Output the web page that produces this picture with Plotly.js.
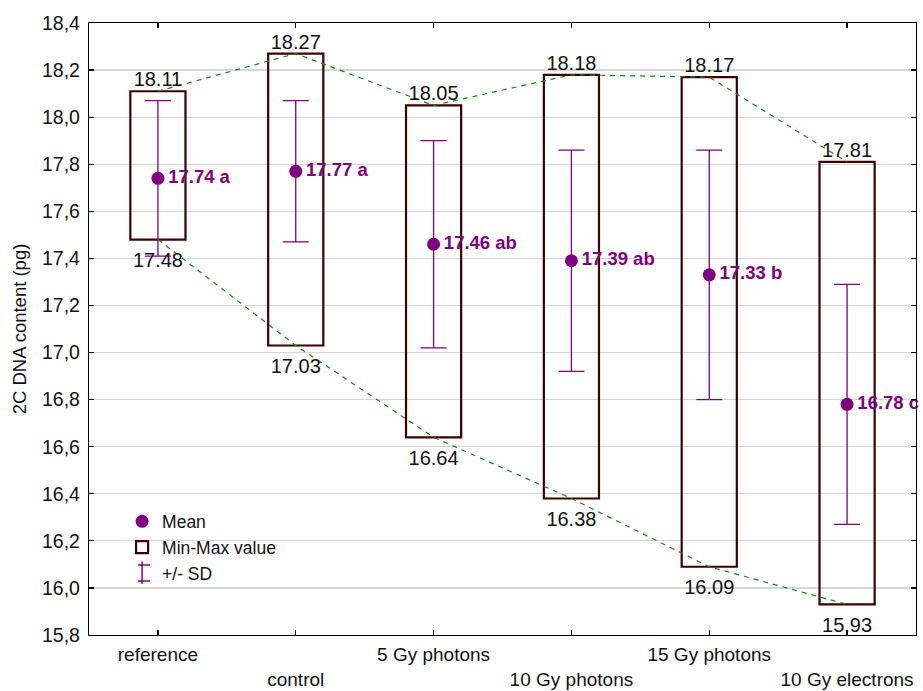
<!DOCTYPE html>
<html>
<head>
<meta charset="utf-8">
<script src="https://cdn.plot.ly/plotly-3.0.1.min.js"></script>
<style>html,body{margin:0;padding:0;background:#fff;}#chart{width:923px;height:691px;}</style>
</head>
<body>
<div id="chart"></div>
<script>
var categories = ['reference', 'control', '5 Gy photons', '10 Gy photons', '15 Gy photons', '10 Gy electrons'];
var meanValues = [17.74, 17.77, 17.46, 17.39, 17.33, 16.78];
var groupLetters = ['a', 'a', 'ab', 'ab', 'b', 'c'];
var sdValues = [0.33, 0.30, 0.44, 0.47, 0.53, 0.51];
var minValues = [17.48, 17.03, 16.64, 16.38, 16.09, 15.93];
var maxValues = [18.11, 18.27, 18.05, 18.18, 18.17, 17.81];
var yTickValues = [15.8, 16.0, 16.2, 16.4, 16.6, 16.8, 17.0, 17.2, 17.4, 17.6, 17.8, 18.0, 18.2, 18.4];

var purple = '#800080';
var boxColor = '#3d0000';
var green = '#118a11';
var fontFam = 'Arial, "Liberation Sans", sans-serif';

var tickText = categories.map(function (c, i) { return i % 2 === 1 ? '<br>' + c : c; });

var traces = [
  {
    type: 'bar', name: 'Min-Max value', x: categories,
    base: minValues,
    y: maxValues.map(function (v, i) { return v - minValues[i]; }),
    width: 0.4,
    marker: { color: 'rgba(255,255,255,0)', line: { color: boxColor, width: 2.2 } },
    hoverinfo: 'skip', legendrank: 2
  },
  {
    type: 'scatter', mode: 'lines', x: categories, y: maxValues, showlegend: false,
    line: { color: green, width: 1.2, dash: '5px,5px' }, hoverinfo: 'skip'
  },
  {
    type: 'scatter', mode: 'lines', x: categories, y: minValues, showlegend: false,
    line: { color: green, width: 1.2, dash: '5px,5px' }, hoverinfo: 'skip'
  },
  {
    type: 'scatter', mode: 'text', x: categories, y: maxValues, showlegend: false,
    text: maxValues.map(function (v) { return v.toFixed(2); }),
    textposition: 'top center', cliponaxis: false,
    textfont: { family: fontFam, size: 20, color: '#111' }, hoverinfo: 'skip'
  },
  {
    type: 'scatter', mode: 'markers+text', x: categories, y: minValues, showlegend: false,
    text: minValues.map(function (v) { return v.toFixed(2); }),
    textposition: 'bottom center', cliponaxis: false,
    marker: { size: 18, color: 'rgba(0,0,0,0)', line: { width: 0 } },
    textfont: { family: fontFam, size: 20, color: '#111' }, hoverinfo: 'skip'
  },
  {
    type: 'scatter', mode: 'markers', name: 'Mean', x: categories, y: meanValues,
    marker: { color: purple, size: 13 },
    error_y: { type: 'data', array: sdValues, color: purple, thickness: 1.3, width: 13 },
    legendrank: 1, cliponaxis: false
  },
  {
    type: 'scatter', mode: 'text', x: categories, y: meanValues, showlegend: false,
    text: meanValues.map(function (v, i) { return '  ' + v.toFixed(2) + ' ' + groupLetters[i]; }),
    textposition: 'middle right', cliponaxis: false,
    textfont: { family: fontFam, size: 18.5, color: purple, weight: 'bold' }, hoverinfo: 'skip'
  },
  {
    type: 'scatter', mode: 'markers', name: '+/- SD', x: [null], y: [null],
    marker: { symbol: 'line-ns-open', size: 17, color: purple, line: { color: purple, width: 1.5 } },
    legendrank: 3
  }
];

var layout = {
  width: 923, height: 691,
  margin: { l: 89, r: 7, t: 23, b: 56 },
  paper_bgcolor: '#fff', plot_bgcolor: '#fff',
  separators: ',.',
  font: { family: fontFam, color: '#111', size: 18 },
  showlegend: true,
  legend: {
    x: 0.040, y: 0.215, xanchor: 'left', yanchor: 'top',
    bgcolor: 'rgba(0,0,0,0)', borderwidth: 0,
    font: { family: fontFam, size: 17.5, color: '#111' },
    tracegroupgap: 0
  },
  xaxis: {
    type: 'category', range: [-0.5, 5.5],
    tickmode: 'array', tickvals: categories, ticktext: tickText,
    tickfont: { family: fontFam, size: 19, color: '#111' },
    showgrid: false, zeroline: false, ticklabelstandoff: 2,
    showline: true, linecolor: '#000', linewidth: 1.2, mirror: 'ticks',
    ticks: 'inside', ticklen: 5, tickcolor: '#000', tickwidth: 1.2
  },
  yaxis: {
    range: [15.8, 18.4], tickmode: 'array', tickvals: yTickValues, tickformat: '.1f',
    tickfont: { family: fontFam, size: 19.5, color: '#111' },
    showgrid: true, gridcolor: '#d6d6d6', gridwidth: 1.3, zeroline: false, ticklabelstandoff: 4,
    showline: true, linecolor: '#000', linewidth: 1.2, mirror: 'ticks',
    ticks: 'inside', ticklen: 5, tickcolor: '#000', tickwidth: 1.2,
    title: { text: '2C DNA content (pg)', font: { family: fontFam, size: 18.5, color: '#111' }, standoff: 10 }
  },
  shapes: [
    { type: 'line', xref: 'paper', yref: 'paper', x0: 0.0593, x1: 0.0738, y0: 0.1144, y1: 0.1144, line: { color: purple, width: 1.5 } },
    { type: 'line', xref: 'paper', yref: 'paper', x0: 0.0593, x1: 0.0738, y0: 0.0882, y1: 0.0882, line: { color: purple, width: 1.5 } }
  ]
};

Plotly.newPlot('chart', traces, layout, { staticPlot: true, displayModeBar: false });
</script>
</body>
</html>
